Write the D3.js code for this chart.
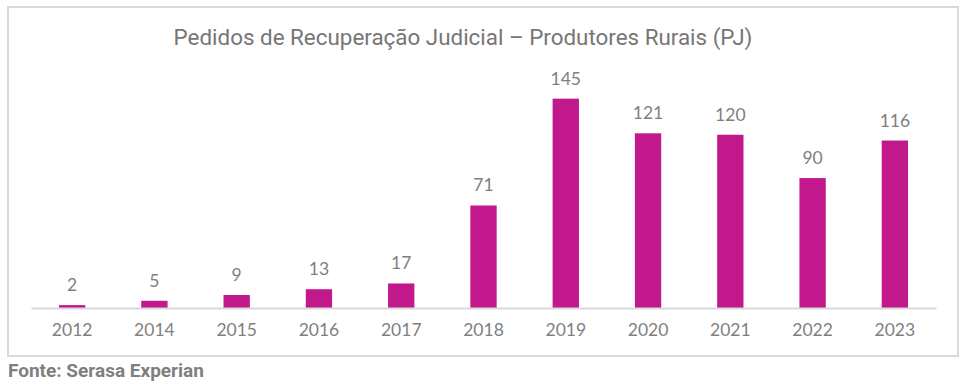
<!DOCTYPE html>
<html>
<head>
<meta charset="utf-8">
<script src="https://cdn.jsdelivr.net/npm/d3@7"></script>
<style>
  body { margin: 0; background: #fff; }
  svg { display: block; }
</style>
</head>
<body>
<div id="chart"></div>
<script>
// data
const years = ["2012", "2014", "2015", "2016", "2017", "2018", "2019", "2020", "2021", "2022", "2023"];
const pedidos = [2, 5, 9, 13, 17, 71, 145, 121, 120, 90, 116];
const titulo = "Pedidos de Recuperação Judicial – Produtores Rurais (PJ)";
const fonte = "Fonte: Serasa Experian";

const width = 966, height = 386;
const margin = { left: 31, right: 30, top: 77, baseline: 308 };

const svg = d3.select("#chart").append("svg")
    .attr("width", width).attr("height", height);

// outer frame
svg.append("rect")
    .attr("x", 8).attr("y", 7).attr("width", 950).attr("height", 349)
    .attr("fill", "none").attr("stroke", "#d9d9d9").attr("stroke-width", 2);

const x = d3.scaleBand().domain(years)
    .range([margin.left, width - margin.right])
    .paddingInner(0.68).paddingOuter(0.34);

const y = d3.scaleLinear().domain([0, 160]).range([margin.baseline, margin.top]);

svg.append("text")
    .attr("x", 463).attr("y", 45)
    .attr("text-anchor", "middle")
    .style("font", "22.4px Roboto")
    .attr("fill", "#767676")
    .text(titulo);

svg.append("g").selectAll("rect")
  .data(pedidos)
  .join("rect")
    .attr("x", (d, i) => x(years[i]))
    .attr("width", x.bandwidth())
    .attr("y", d => y(d))
    .attr("height", d => y(0) - y(d))
    .attr("fill", "#c1188b");

svg.append("g").selectAll("text")
  .data(pedidos)
  .join("text")
    .attr("x", (d, i) => x(years[i]) + x.bandwidth() / 2)
    .attr("y", d => y(d) - 14)
    .attr("text-anchor", "middle")
    .style("font", "17.5px Lato")
    .attr("fill", "#7f7f7f")
    .text(d => d);

// x axis
const xAxis = svg.append("g")
    .attr("transform", `translate(0,${margin.baseline})`)
    .call(d3.axisBottom(x).tickSize(0).tickPadding(16));
xAxis.select(".domain").attr("stroke", "#d9d9d9").attr("stroke-width", 2);
xAxis.selectAll("text").style("font", "17.5px Lato").attr("fill", "#7f7f7f");

svg.append("text")
    .attr("x", 8).attr("y", 377)
    .style("font", "bold 19px Roboto")
    .attr("fill", "#7f7f7f")
    .text(fonte);
</script>
</body>
</html>
